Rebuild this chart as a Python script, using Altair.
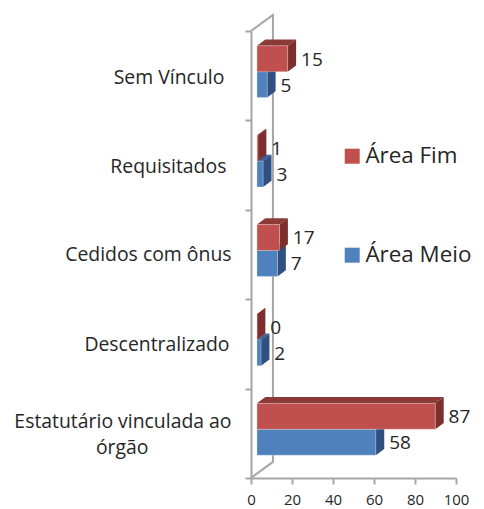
import altair as alt
import pandas as pd

categories = ["Sem Vínculo", "Requisitados", "Cedidos com ônus", "Descentralizado", "Estatutário vinculada ao órgão"]
area_fim = [15, 1, 17, 0, 87]
area_meio = [5, 3, 7, 2, 58]
# lengths of the bars as they are drawn in the picture (the labels above are what is printed)
area_fim_drawn = [15, 0.5, 11, 0, 87]
area_meio_drawn = [5, 3, 10, 2, 58]
series = ["Área Fim", "Área Meio"]
front = {"Área Fim": "#c0504d", "Área Meio": "#4f81bd"}
side = {"Área Fim": "#7c2f2d", "Área Meio": "#2f5080"}
top = {"Área Fim": "#8c3a37", "Área Meio": "#3a6298"}
label_lines = [("Sem Vínculo", 0.53, -13), ("Requisitados", 1.52, -12), ("Cedidos com ônus", 2.51, -9.5),
               ("Descentralizado", 3.51, -10.5), ("Estatutário vinculada ao", 4.37, -9.5), ("órgão", 4.67, -50)]
FONT = "Open Sans"
TXT = "#262626"
GRAY = "#a6a6a6"

BASE = 2.9      # floor offset of bars, x units
DX = 4.1        # bar depth, x units
DY = 0.07       # bar depth, band units
BH = 0.29       # bar thickness, band units
SHIFT = 0.045

fronts, faces, values = [], [], []
for s, vals, shown, k in (("Área Meio", area_meio_drawn, area_meio, 1), ("Área Fim", area_fim_drawn, area_fim, 0)):
    for i, v in enumerate(vals):
        c = i + 0.5 - SHIFT
        y0 = c - BH if k == 0 else c
        y1 = c if k == 0 else c + BH
        x0, x1 = BASE, BASE + v
        fronts.append(dict(series=s, x=x0, x2=x1, y=y0, y2=y1, ord=k))
        stops = sorted({x0, x1, x0 + DX, x1 + DX})
        if v > 0:
            for x in stops:
                faces.append(dict(id=f"{s}{i}t", x=x, y=y0 - DY * min(1, (x - x0) / DX),
                                  y2=y0 - DY * max(0, (x - x1) / DX), fill=top[s], z=0 if k else 2))
        for x, d in ((x1, 0), (x1 + DX, DY)):
            faces.append(dict(id=f"{s}{i}s", x=x, y=y0 - d, y2=y1 - d, fill=side[s], z=0 if k else 2))
        values.append(dict(t=str(shown[i]), x=x1 + DX + 2.4, y=(y0 + y1) / 2 + 0.01))

xs = alt.Scale(domain=[0, 100], nice=False, clamp=False)
ys = alt.Scale(domain=[0, 5], reverse=True, nice=False, clamp=False)
X = alt.X("x:Q", scale=xs, title=None,
          axis=alt.Axis(values=[0, 20, 40, 60, 80, 100], grid=False, domainColor=GRAY, domainWidth=2,
                        tickColor=GRAY, tickWidth=2, tickSize=6, labelFontSize=15, labelFont=FONT,
                        labelColor=TXT, labelPadding=8, labelFlush=False))
Y = alt.Y("y:Q", scale=ys, title=None,
          axis=alt.Axis(values=[0, 1, 2, 3, 4, 5], grid=False, labels=False, domainColor=GRAY, domainWidth=2,
                        tickColor=GRAY, tickWidth=2, tickSize=6))

wall = pd.DataFrame([dict(x=0, y=0, o=0), dict(x=10.7, y=-0.18, o=1), dict(x=10.7, y=4.82, o=2), dict(x=0, y=5, o=3)])
wall_layer = alt.Chart(wall).mark_line(color=GRAY, strokeWidth=2).encode(x=X, y=Y, order="o:Q")

fr = pd.DataFrame(fronts)
fa = pd.DataFrame(faces)


def faces_layer(z):
    return alt.Chart(fa[fa.z == z]).mark_area(orient="vertical").encode(
        x=alt.X("x:Q", scale=xs), y=alt.Y("y:Q", scale=ys), y2="y2:Q",
        detail="id:N", fill=alt.Fill("fill:N", scale=None, legend=None))


def front_layer(s, legend):
    return alt.Chart(fr[fr.series == s]).mark_bar(stroke="#ffffff", strokeOpacity=0.35, strokeWidth=0.8).encode(
        x=alt.X("x:Q", scale=xs), x2="x2:Q", y=alt.Y("y:Q", scale=ys), y2="y2:Q",
        color=alt.Color("series:N", scale=alt.Scale(domain=series, range=[front[s_] for s_ in series]), legend=legend))


leg = alt.Legend(title=None, orient="none", legendX=90, legendY=114, symbolType="square", symbolSize=225,
                 symbolStrokeWidth=0, labelFontSize=22.4, labelFont=FONT, labelColor=TXT, labelOffset=2,
                 rowPadding=76, values=series)

text_val = alt.Chart(pd.DataFrame(values)).mark_text(align="left", baseline="middle", fontSize=19, font=FONT, color=TXT).encode(
    x=alt.X("x:Q", scale=xs), y=alt.Y("y:Q", scale=ys), text="t:N")

labels = pd.DataFrame([dict(t=t, y=y, x=x) for t, y, x in label_lines])
text_cat = alt.Chart(labels).mark_text(align="right", baseline="middle", fontSize=19.4, font=FONT, color=TXT).encode(
    x=alt.X("x:Q", scale=xs), y=alt.Y("y:Q", scale=ys), text="t:N")

chart = alt.layer(
    wall_layer, faces_layer(0), front_layer("Área Meio", leg), faces_layer(2), front_layer("Área Fim", leg),
    text_val, text_cat
).resolve_scale(color="shared").properties(
    width=205, height=447, padding={"left": 243, "top": 23, "right": 20, "bottom": 30},
    autosize=alt.AutoSizeParams(type="none"), background="#ffffff"
).configure_view(stroke=None)

chart.save("out.html", embed_options={"renderer": "svg", "actions": False})
